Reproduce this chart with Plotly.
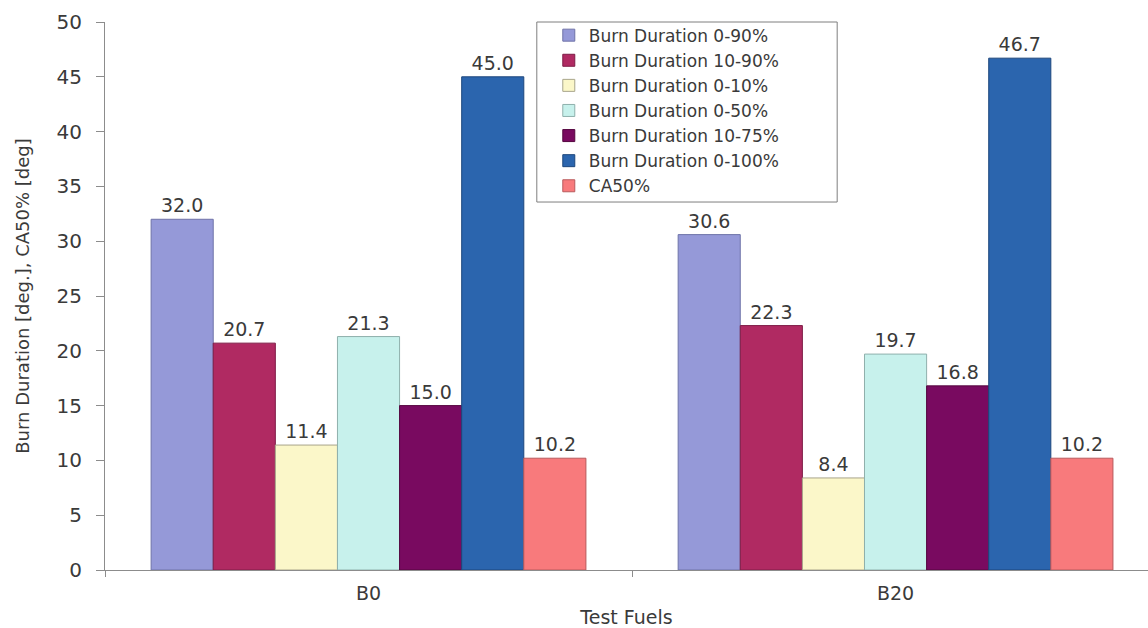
import plotly.graph_objects as go

# Test fuels and measured combustion parameters
fuels = ["B0", "B20"]
series_names = [
    "Burn Duration 0-90%",
    "Burn Duration 10-90%",
    "Burn Duration 0-10%",
    "Burn Duration 0-50%",
    "Burn Duration 10-75%",
    "Burn Duration 0-100%",
    "CA50%",
]
bd_0_90 = [32.0, 30.6]
bd_10_90 = [20.7, 22.3]
bd_0_10 = [11.4, 8.4]
bd_0_50 = [21.3, 19.7]
bd_10_75 = [15.0, 16.8]
bd_0_100 = [45.0, 46.7]
ca50 = [10.2, 10.2]
y_ticks = [0, 5, 10, 15, 20, 25, 30, 35, 40, 45, 50]

values = [bd_0_90, bd_10_90, bd_0_10, bd_0_50, bd_10_75, bd_0_100, ca50]
fills = ["#9599d8", "#b02a62", "#fbf7c9", "#c7f1ec", "#790a60", "#2b65ae", "#f87a7c"]
edges = ["#6f73a8", "#7e1c46", "#a8a58a", "#8fb0ac", "#55063f", "#1d477c", "#b85a5c"]

FONT = "DejaVu Sans"
TXT = "#3a3a3a"
AX = "#8c8c8c"

fig = go.Figure()
for name, vals, fc, ec in zip(series_names, values, fills, edges):
    fig.add_trace(go.Bar(
        name=name,
        x=fuels,
        y=vals,
        marker=dict(color=fc, line=dict(color=ec, width=1)),
        text=[f"{v:.1f}" for v in vals],
        textposition="outside",
        textfont=dict(family=FONT, size=19, color=TXT),
        cliponaxis=False,
    ))

# framed legend panel in the upper middle of the plot
fig.add_shape(
    type="rect", xref="paper", yref="paper",
    x0=0.414, x1=0.702, y0=0.6715, y1=1.0,
    line=dict(color="#7f7f7f", width=1),
    fillcolor="white", layer="above",
)

fig.update_layout(
    width=1148,
    height=628,
    margin=dict(l=105, r=0, t=22, b=58),
    paper_bgcolor="white",
    plot_bgcolor="white",
    barmode="group",
    bargap=0.175,
    bargroupgap=0,
    font=dict(family=FONT, size=18, color=TXT),
    showlegend=True,
    legend=dict(
        x=0.4255, y=1.008, xanchor="left", yanchor="top",
        bgcolor="rgba(0,0,0,0)",
        borderwidth=0,
        font=dict(family=FONT, size=17, color=TXT),
        traceorder="normal",
        itemwidth=30,
    ),
)

fig.update_xaxes(
    range=[-0.5, 1.479],
    showline=True, linecolor=AX, linewidth=1,
    ticks="outside", tickson="boundaries", ticklen=6, tickcolor=AX,
    tickfont=dict(family=FONT, size=19, color=TXT),
    ticklabelstandoff=6,
    showgrid=False,
    automargin=False,
    title=dict(text="Test Fuels", font=dict(family=FONT, size=19, color=TXT), standoff=15),
)
fig.update_yaxes(
    range=[0, 50],
    tickvals=y_ticks,
    showline=True, linecolor=AX, linewidth=1,
    ticks="outside", ticklen=8, tickcolor=AX,
    tickfont=dict(family=FONT, size=20, color=TXT),
    ticklabelstandoff=10,
    showgrid=False, zeroline=False,
    automargin=False,
    title=dict(text="Burn Duration [deg.], CA50% [deg]",
               font=dict(family=FONT, size=18, color=TXT), standoff=22),
)

fig.write_html("out.html")
